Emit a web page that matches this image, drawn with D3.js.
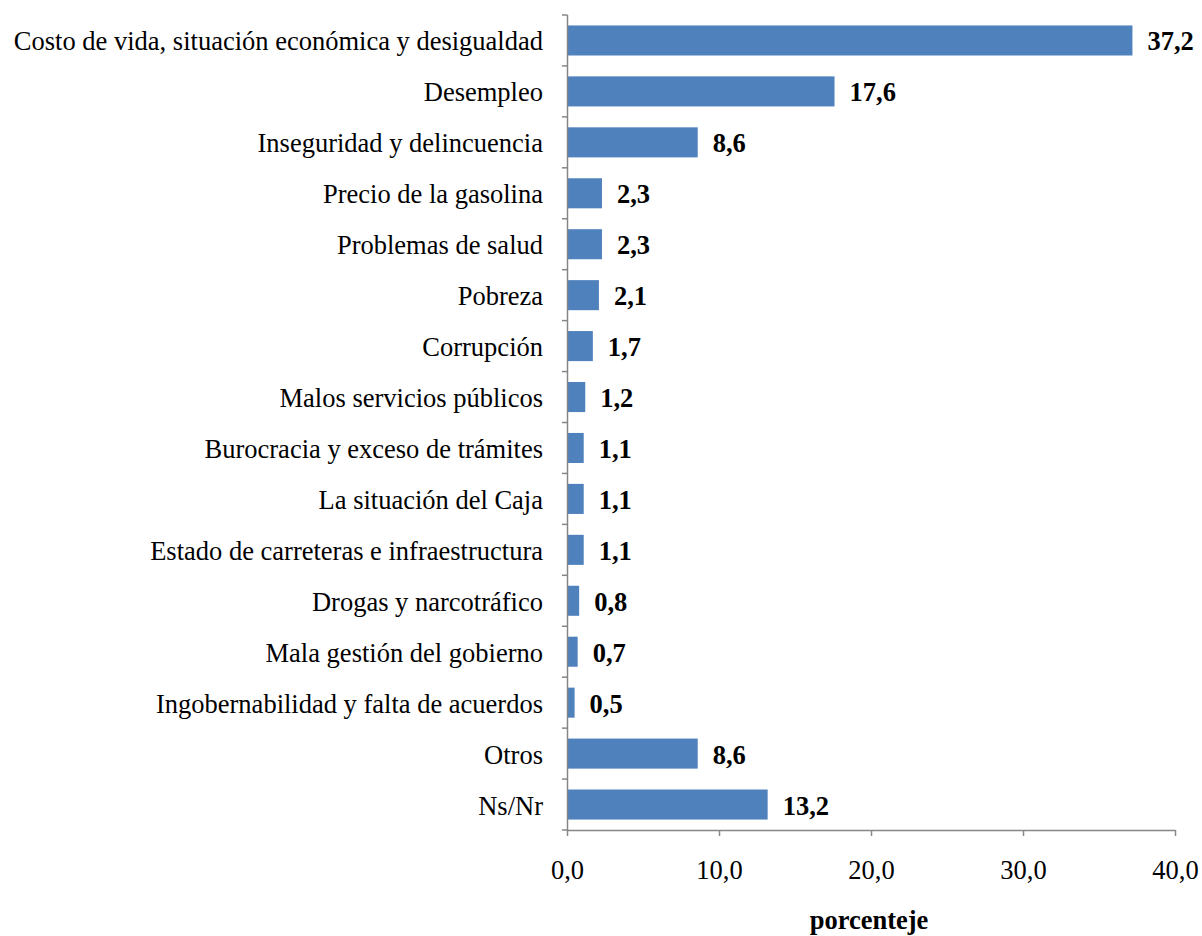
<!DOCTYPE html>
<html>
<head>
<meta charset="utf-8">
<script src="https://cdn.jsdelivr.net/npm/d3@7"></script>
<style>
  body { margin: 0; background: #fff; }
  svg text { font-family: "Liberation Serif", "Times New Roman", serif; }
</style>
</head>
<body>
<div id="chart"></div>
<script>
const categories = [
  'Costo de vida, situación económica y desigualdad',
  'Desempleo',
  'Inseguridad y delincuencia',
  'Precio de la gasolina',
  'Problemas de salud',
  'Pobreza',
  'Corrupción',
  'Malos servicios públicos',
  'Burocracia y exceso de trámites',
  'La situación del Caja',
  'Estado de carreteras e infraestructura',
  'Drogas y narcotráfico',
  'Mala gestión del gobierno',
  'Ingobernabilidad y falta de acuerdos',
  'Otros',
  'Ns/Nr'
];
const values = [37.2, 17.6, 8.6, 2.3, 2.3, 2.1, 1.7, 1.2, 1.1, 1.1, 1.1, 0.8, 0.7, 0.5, 8.6, 13.2];
const xTicks = [0, 10, 20, 30, 40];
const xTitle = 'porcenteje';

const fmt = v => v.toFixed(1).replace('.', ',');
const fs = '26.5px';

const margin = { top: 15, right: 27, bottom: 106, left: 567 };
const W = 1202, H = 936;
const width = W - margin.left - margin.right;
const height = H - margin.top - margin.bottom;

const svg = d3.select('#chart').append('svg')
  .attr('width', W)
  .attr('height', H);

const g = svg.append('g')
  .attr('transform', 'translate(' + margin.left + ',' + margin.top + ')');

const x = d3.scaleLinear().domain([0, 40]).range([0, width]);
const y = d3.scaleBand().domain(categories).range([0, height]).paddingInner(0.41).paddingOuter(0.205);

// bars
g.selectAll('rect.bar')
  .data(values)
  .enter().append('rect')
  .attr('class', 'bar')
  .attr('x', x(0))
  .attr('y', (d, i) => y(categories[i]))
  .attr('width', d => x(d) - x(0))
  .attr('height', y.bandwidth())
  .attr('fill', '#4f81bd');

// value labels
g.selectAll('text.val')
  .data(values)
  .enter().append('text')
  .attr('class', 'val')
  .attr('x', d => x(d) + 15)
  .attr('y', (d, i) => y(categories[i]) + y.bandwidth() / 2 + 10)
  .style('font-size', fs)
  .style('font-weight', 'bold')
  .text(d => fmt(d));

// y axis: line with ticks at band edges
const yAxis = g.append('g');
yAxis.append('line')
  .attr('x1', 0.5).attr('x2', 0.5)
  .attr('y1', 0).attr('y2', height)
  .attr('stroke', '#868686').attr('stroke-width', 1.5);
const edges = d3.range(categories.length + 1).map(i => i * height / categories.length);
yAxis.selectAll('line.tk')
  .data(edges)
  .enter().append('line')
  .attr('class', 'tk')
  .attr('x1', -5).attr('x2', 0.5)
  .attr('y1', d => d).attr('y2', d => d)
  .attr('stroke', '#868686').attr('stroke-width', 1.5);
yAxis.selectAll('text')
  .data(categories)
  .enter().append('text')
  .attr('x', -24)
  .attr('y', d => y(d) + y.bandwidth() / 2 + 10)
  .attr('text-anchor', 'end')
  .style('font-size', fs)
  .attr('fill', '#000')
  .text(d => d);

// x axis
const xAxis = g.append('g')
  .attr('transform', 'translate(0,' + height + ')')
  .call(d3.axisBottom(x).tickValues(xTicks).tickSize(6).tickSizeOuter(0).tickFormat(fmt));
xAxis.select('.domain').attr('stroke', '#868686').attr('stroke-width', 1.5);
xAxis.selectAll('.tick line').attr('stroke', '#868686').attr('stroke-width', 1.5);
xAxis.selectAll('.tick text')
  .attr('y', 49)
  .attr('dy', null)
  .style('font-size', fs)
  .style('font-family', '"Liberation Serif", "Times New Roman", serif')
  .attr('fill', '#000');

g.append('text')
  .attr('x', width / 2 - 2)
  .attr('y', height + 99)
  .attr('text-anchor', 'middle')
  .style('font-size', fs)
  .style('font-weight', 'bold')
  .text(xTitle);
</script>
</body>
</html>
